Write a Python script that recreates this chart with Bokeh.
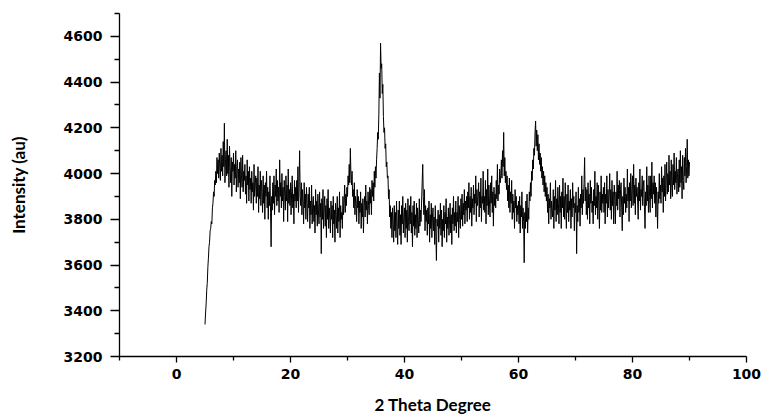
from bokeh.plotting import figure
from bokeh.models import FixedTicker, Range1d
from bokeh.embed import file_html
from bokeh.resources import INLINE

# XRD pattern: 2-theta from 5.0 to 90.0 in steps of 0.1
theta_start = 5.0
theta_step = 0.1
intensity = [
    3340, 3390, 3430, 3490, 3520, 3590, 3630, 3680, 3700, 3750,  # 5
    3760, 3790, 3780, 3850, 3870, 3920, 3900, 3970, 3950, 4010,  # 6
    3960, 4070, 4000, 4060, 3980, 4090, 4020, 3970, 4110, 4010,  # 7
    4080, 3990, 4140, 4030, 4220, 3960, 4060, 4100, 3990, 4150,  # 8
    4000, 4080, 3940, 4120, 4020, 3960, 4070, 3900, 4050, 4010,  # 9
    4090, 3950, 4040, 3980, 4100, 3920, 4030, 4060, 3940, 4020,  # 10
    3960, 4050, 3890, 4070, 3990, 3940, 4080, 3920, 4010, 3970,  # 11
    4040, 3910, 3990, 3870, 4060, 3950, 4010, 3880, 4030, 3930,  # 12
    3980, 3870, 4010, 3920, 3960, 3840, 4040, 3900, 3950, 3990,  # 13
    3870, 3980, 3900, 4030, 3830, 3950, 3890, 4010, 3860, 3970,  # 14
    3920, 3830, 3990, 3870, 3950, 3800, 3960, 3900, 4010, 3850,  # 15
    3940, 3800, 3920, 3860, 3990, 3830, 3680, 3900, 3840, 3960,  # 16
    3870, 3990, 3820, 3950, 3900, 4020, 3860, 3970, 3880, 3940,  # 17
    3830, 4060, 3900, 3960, 3850, 4000, 3880, 3940, 3790, 3970,  # 18
    3900, 3840, 3990, 3880, 3950, 3790, 4020, 3870, 3930, 3860,  # 19
    3960, 3820, 3920, 3990, 3850, 3910, 3780, 3970, 3880, 3940,  # 20
    3850, 3970, 3880, 4030, 3830, 3950, 4100, 3900, 3860, 3960,  # 21
    3820, 3930, 3880, 3780, 3960, 3850, 3910, 3800, 3940, 3870,  # 22
    3790, 3910, 3850, 3940, 3760, 3880, 3820, 3950, 3780, 3870,  # 23
    3900, 3790, 3860, 3740, 3930, 3820, 3880, 3770, 3910, 3840,  # 24
    3780, 3920, 3810, 3870, 3650, 3890, 3800, 3930, 3760, 3850,  # 25
    3900, 3770, 3860, 3720, 3890, 3800, 3930, 3760, 3850, 3810,  # 26
    3740, 3880, 3800, 3860, 3720, 3900, 3780, 3840, 3700, 3870,  # 27
    3820, 3760, 3900, 3740, 3850, 3790, 3920, 3720, 3860, 3800,  # 28
    3830, 3760, 3900, 3820, 3870, 3950, 3830, 3910, 3860, 3940,  # 29
    3900, 3990, 3950, 4040, 3960, 4110, 4000, 3950, 4010, 3900,  # 30
    3930, 3850, 3960, 3820, 3900, 3870, 3790, 3930, 3850, 3900,  # 31
    3780, 3880, 3830, 3920, 3760, 3870, 3810, 3890, 3740, 3860,  # 32
    3900, 3810, 3950, 3840, 3880, 3780, 3920, 3860, 3820, 3940,  # 33
    3870, 3930, 3820, 3970, 3900, 3960, 3880, 4010, 3940, 4030,  # 34
    3980, 4060, 4110, 4180, 4150, 4260, 4440, 4330, 4570, 4460,  # 35
    4480, 4350, 4390, 4250, 4180, 4200, 4110, 4130, 4030, 4050,  # 36
    3980, 3990, 3890, 3930, 3810, 3860, 3760, 3830, 3720, 3850,  # 37
    3790, 3700, 3860, 3750, 3830, 3720, 3880, 3770, 3690, 3840,  # 38
    3760, 3880, 3730, 3820, 3690, 3860, 3780, 3900, 3740, 3810,  # 39
    3850, 3720, 3870, 3760, 3840, 3700, 3890, 3790, 3750, 3860,  # 40
    3780, 3900, 3740, 3830, 3680, 3860, 3770, 3880, 3730, 3820,  # 41
    3760, 3870, 3720, 3850, 3800, 3740, 3890, 3770, 3840, 3790,  # 42
    3880, 3960, 4040, 3900, 3820, 3930, 3750, 3860, 3790, 3840,  # 43
    3730, 3850, 3780, 3880, 3700, 3820, 3760, 3870, 3720, 3810,  # 44
    3850, 3750, 3810, 3690, 3860, 3740, 3620, 3800, 3770, 3840,  # 45
    3700, 3820, 3760, 3870, 3730, 3840, 3680, 3800, 3750, 3860,  # 46
    3720, 3830, 3780, 3890, 3700, 3810, 3760, 3850, 3730, 3800,  # 47
    3870, 3740, 3820, 3690, 3850, 3780, 3900, 3750, 3830, 3770,  # 48
    3880, 3740, 3830, 3790, 3900, 3720, 3860, 3800, 3760, 3890,  # 49
    3800, 3910, 3770, 3870, 3820, 3930, 3780, 3880, 3840, 3900,  # 50
    3790, 3920, 3850, 3960, 3800, 3900, 3830, 3940, 3770, 3890,  # 51
    3850, 3950, 3820, 3910, 3870, 3990, 3790, 3930, 3860, 3900,  # 52
    3960, 3810, 3920, 3850, 3980, 3790, 3900, 3870, 4010, 3840,  # 53
    3900, 3830, 3970, 3780, 3930, 3860, 4020, 3820, 3950, 3880,  # 54
    3810, 3960, 3870, 3990, 3830, 3920, 3770, 3940, 3860, 3910,  # 55
    3850, 3970, 3890, 4040, 3880, 3950, 3910, 4020, 3960, 3990,  # 56
    4060, 3980, 4100, 4030, 4180, 3990, 4070, 3960, 4010, 3930,  # 57
    3990, 3880, 3950, 3850, 3980, 3830, 3920, 3870, 3970, 3800,  # 58
    3910, 3830, 3880, 3760, 3930, 3850, 3900, 3790, 3860, 3820,  # 59
    3880, 3780, 3900, 3740, 3860, 3810, 3920, 3760, 3850, 3790,  # 60
    3610, 3830, 3760, 3880, 3790, 3910, 3740, 3850, 3800, 3920,  # 61
    3880, 3960, 3900, 4010, 3970, 4060, 4020, 4110, 4080, 4180,  # 62
    4230, 4120, 4190, 4100, 4170, 4060, 4130, 4040, 4090, 4010,  # 63
    4070, 3980, 4030, 3950, 4010, 3920, 3990, 3900, 3960, 3880,  # 64
    3940, 3830, 3910, 3780, 3890, 3850, 3960, 3800, 3880, 3840,  # 65
    3810, 3930, 3760, 3900, 3840, 3970, 3790, 3890, 3820, 3940,  # 66
    3870, 3780, 3950, 3830, 3900, 3760, 3920, 3850, 3980, 3810,  # 67
    3900, 3800, 3960, 3850, 3760, 3910, 3830, 3950, 3790, 3880,  # 68
    3840, 3930, 3760, 3890, 3810, 3960, 3850, 3900, 3750, 3870,  # 69
    3830, 3920, 3650, 3860, 3790, 3940, 3830, 3890, 3770, 3910,  # 70
    3850, 3990, 3820, 3930, 3870, 3960, 4070, 3880, 3940, 3820,  # 71
    3930, 3800, 3960, 3850, 3910, 3780, 3970, 3870, 3940, 3830,  # 72
    3880, 3780, 3930, 3860, 4010, 3820, 3900, 3850, 3960, 3800,  # 73
    3950, 3870, 3760, 3920, 3840, 3990, 3830, 3910, 3870, 3940,  # 74
    3830, 3960, 3780, 3910, 3870, 3990, 3810, 3930, 3850, 3900,  # 75
    4000, 3840, 3930, 3800, 3970, 3860, 3920, 3780, 3950, 3880,  # 76
    3780, 3920, 3860, 4010, 3840, 3950, 3890, 3970, 3810, 3930,  # 77
    3960, 3850, 3750, 3900, 3820, 3980, 3870, 3940, 3830, 3910,  # 78
    3850, 4020, 3880, 3940, 3790, 3960, 3880, 4000, 3850, 3930,  # 79
    3990, 3860, 4040, 3870, 3950, 3820, 3980, 3900, 3940, 3880,  # 80
    3800, 3960, 3880, 4020, 3840, 3930, 3900, 3990, 3860, 3950,  # 81
    3970, 3850, 3760, 3920, 3860, 4030, 3880, 3950, 3830, 3990,  # 82
    3900, 3830, 3990, 3890, 4050, 3850, 3960, 3910, 3990, 3870,  # 83
    3960, 3810, 3940, 3880, 3760, 3920, 3870, 4000, 3890, 3950,  # 84
    3870, 4030, 3920, 3980, 3830, 3990, 3900, 4040, 3880, 3960,  # 85
    4050, 3910, 4000, 3920, 4080, 3950, 4010, 3890, 4060, 3940,  # 86
    3900, 4040, 3950, 4090, 3930, 4010, 3960, 4070, 3910, 4000,  # 87
    4020, 3920, 4060, 3940, 4100, 3960, 4030, 3890, 4080, 3970,  # 88
    3930, 4070, 3990, 4110, 3960, 4030, 4150, 3980, 4060, 3990,  # 89
    4050,                                                        # 90
]
two_theta = [round(theta_start + theta_step * i, 1) for i in range(len(intensity))]

x_major_ticks = [0, 20, 40, 60, 80, 100]
x_minor_ticks = [-10, 10, 30, 50, 70, 90]
y_major_ticks = [3200, 3400, 3600, 3800, 4000, 4200, 4400, 4600]
y_minor_ticks = [3300, 3500, 3700, 3900, 4100, 4300, 4500, 4700]
x_label_text = "2 Theta Degree"
y_label_text = "Intensity (au)"

p = figure(width=768, height=417, output_backend="svg", toolbar_location=None,
           x_range=Range1d(-10, 100), y_range=Range1d(3200, 4700),
           min_border_left=119, min_border_right=22,
           min_border_top=13, min_border_bottom=61)
p.background_fill_color = "white"
p.border_fill_color = "white"
p.outline_line_color = None
p.xgrid.visible = False
p.ygrid.visible = False

p.line(two_theta, intensity, line_color="black", line_width=1)

tick_font = "DejaVu Sans"
for ax in (p.xaxis[0], p.yaxis[0]):
    ax.axis_line_color = "black"
    ax.axis_line_width = 1.3
    ax.major_tick_line_color = "black"
    ax.minor_tick_line_color = "black"
    ax.major_tick_line_width = 1.3
    ax.minor_tick_line_width = 1.3
    ax.major_tick_in = 0
    ax.minor_tick_in = 0
    ax.major_label_text_font = tick_font
    ax.major_label_text_font_style = "bold"
    ax.major_label_text_font_size = "14px"
    ax.major_label_text_color = "black"
    ax.axis_label_text_font = "Lato"
    ax.axis_label_text_font_style = "bold"
    ax.axis_label_text_font_size = "17px"
    ax.axis_label_text_color = "black"

p.xaxis.ticker = FixedTicker(ticks=x_major_ticks, minor_ticks=x_minor_ticks)
p.yaxis.ticker = FixedTicker(ticks=y_major_ticks, minor_ticks=y_minor_ticks)
p.xaxis.major_tick_out = 6
p.xaxis.minor_tick_out = 4
p.xaxis.major_label_standoff = 6
p.yaxis.major_tick_out = 9
p.yaxis.minor_tick_out = 5
p.yaxis.major_label_standoff = 8

p.xaxis.axis_label = x_label_text
p.xaxis.axis_label_standoff = 12
p.yaxis.axis_label = y_label_text
p.yaxis.axis_label_standoff = 32

open("out.html", "w").write(file_html(p, INLINE))
